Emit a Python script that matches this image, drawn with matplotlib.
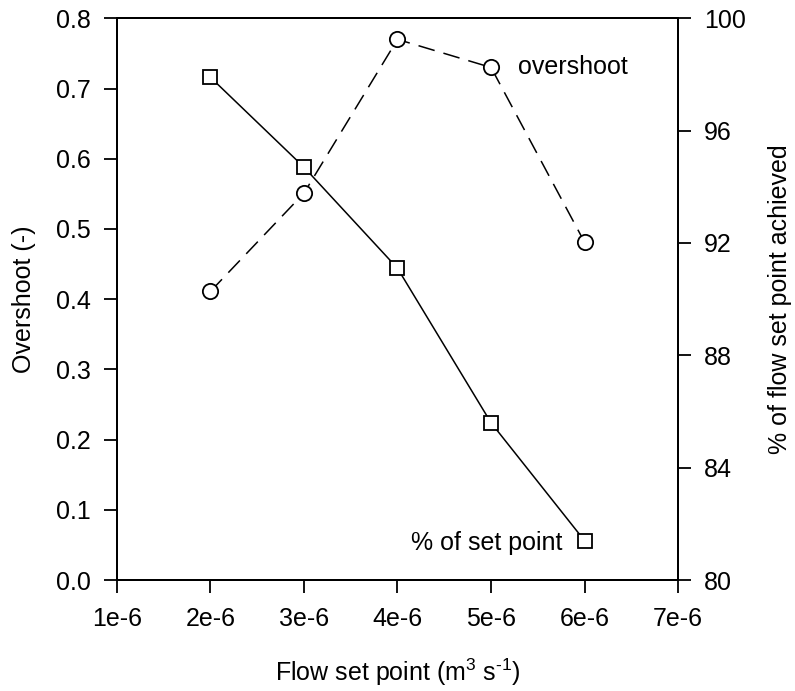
import matplotlib
matplotlib.use("Agg")
import matplotlib.pyplot as plt
from matplotlib.ticker import FixedLocator

plt.rcParams['font.family'] = ['Liberation Sans', 'DejaVu Sans']
plt.rcParams['mathtext.fontset'] = 'custom'
plt.rcParams['mathtext.rm'] = 'Liberation Sans'
plt.rcParams['mathtext.it'] = 'Liberation Sans'

flow = [2e-6, 3e-6, 4e-6, 5e-6, 6e-6]
overshoot = [0.411, 0.551, 0.770, 0.730, 0.481]
pct_setpoint = [97.9, 94.7, 91.1, 85.6, 81.4]
xticks = [1e-6, 2e-6, 3e-6, 4e-6, 5e-6, 6e-6, 7e-6]
xticklabels = ['1e-6', '2e-6', '3e-6', '4e-6', '5e-6', '6e-6', '7e-6']
left_ticks = [0.0, 0.1, 0.2, 0.3, 0.4, 0.5, 0.6, 0.7, 0.8]
right_ticks = [80, 84, 88, 92, 96, 100]

fs = 18
fig = plt.figure(figsize=(7.95, 6.91), dpi=100)
ax = fig.add_axes([0.147, 0.1606, 0.706, 0.8129])
ax2 = ax.twinx()

ax.plot(flow, overshoot, color='black', lw=1.1, dashes=(11, 6),
        marker='o', ms=11, mfc='white', mec='black', mew=1.3, zorder=3)
ax2.plot(flow, pct_setpoint, color='black', lw=1.1, ls='-',
         marker='s', ms=10.5, mfc='white', mec='black', mew=1.3, zorder=3)

ax.set_xlim(1e-6, 7e-6)
ax.set_ylim(0, 0.8)
ax2.set_ylim(80, 100)
ax.xaxis.set_major_locator(FixedLocator(xticks))
ax.set_xticklabels(xticklabels)
ax.set_yticks(left_ticks)
ax.set_yticklabels([f'{v:.1f}' for v in left_ticks])
ax2.set_yticks(right_ticks)
ax2.set_yticklabels([str(v) for v in right_ticks])

for a in (ax, ax2):
    for s in a.spines.values():
        s.set_linewidth(1.4)
    a.tick_params(direction='out', length=9.5, width=1.3, labelsize=fs, pad=9)
ax.tick_params(axis='x', pad=10)

ax.set_xlabel(r'Flow set point (m$^{3}$ s$^{\text{-}1}$)', fontsize=fs)
ax.set_ylabel('Overshoot (-)', fontsize=fs)
ax2.set_ylabel('% of flow set point achieved', fontsize=fs)
ax.xaxis.set_label_coords(0.5, -0.137)
ax.yaxis.set_label_coords(-0.144, 0.5)
ax2.yaxis.set_label_coords(1.1604, 0.5)

ax.text(5.29e-6, 0.730, 'overshoot', fontsize=fs, ha='left', va='center')
ax.text(5.76e-6, 0.0527, '% of set point', fontsize=fs, ha='right', va='center')

fig.savefig('out.png', dpi=100)
